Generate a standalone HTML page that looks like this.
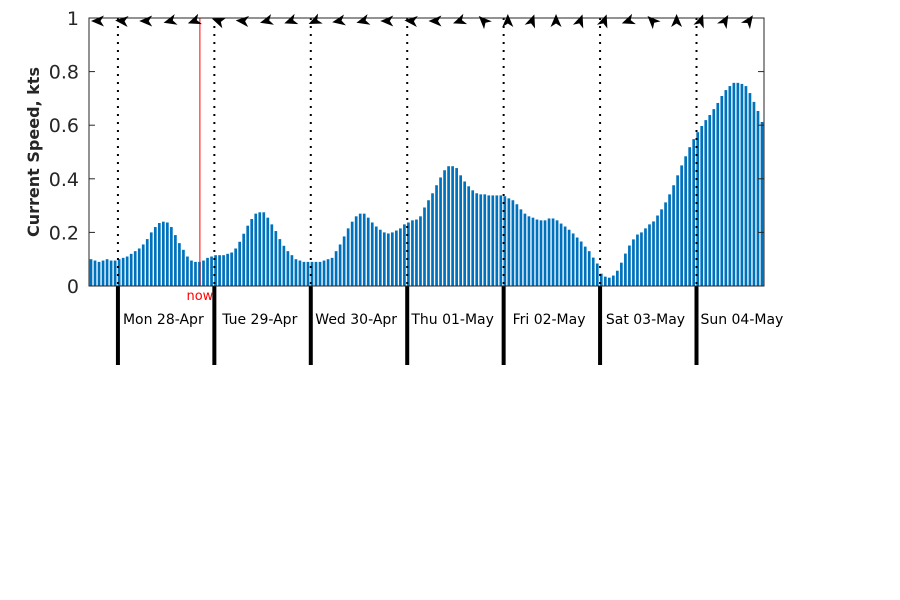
<!DOCTYPE html>
<html><head><meta charset="utf-8"><style>
body{margin:0;background:#fff;width:900px;height:600px;overflow:hidden}
svg{display:block;font-family:"DejaVu Sans","Liberation Sans",sans-serif}
</style></head><body>
<svg id="chart" width="900" height="600" xmlns="http://www.w3.org/2000/svg"></svg>
<script>
const speeds = [
.10,.095,.09,.095,.10,.095,.095,.10,.105,.11,
.12,.13,.14,.155,.175,.20,.22,.235,.24,.237,
.22,.19,.16,.135,.11,.095,.09,.09,.095,.105,
.11,.115,.115,.115,.12,.125,.14,.165,.195,.225,
.25,.27,.275,.275,.255,.23,.205,.175,.15,.13,
.115,.10,.095,.09,.09,.09,
.09,.09,.095,.10,.105,.13,.155,.185,.215,.24,
.26,.27,.27,.255,.237,.222,.21,.2,.196,.2,
.207,.215,.23,.237,.245,.248,.26,.293,.32,.346,
.376,.405,.432,.447,.447,.44,.413,.39,.372,.357,
.346,.342,.342,.338,.338,.338,.338,.335,.327,.32,
.305,.286,.27,.26,
.255,.248,.245,.245,.252,.252,.245,.233,.222,.21,
.196,.181,.166,.147,.13,.106,.084,.046,.035,.031,
.039,.057,.087,.121,.151,.174,.192,.2,.215,.23,
.241,.263,.286,.312,.342,.376,.413,.45,.484,.518,
.548,.574,.597,.619,.638,.66,.683,.709,.731,.746,
.758,.758,.754,.746,.72,.687,.653,.612];
const dayLabels = ["Mon 28-Apr","Tue 29-Apr","Wed 30-Apr","Thu 01-May","Fri 02-May","Sat 03-May","Sun 04-May"];
const yTicks = [0,0.2,0.4,0.6,0.8,1];
const yTickLabels = ["0","0.2","0.4","0.6","0.8","1"];
const arrowDirs = [180,175,180,195,200,160,175,195,200,205,190,195,180,175,
                   180,200,135,90,70,90,70,70,200,135,90,70,60,55];
const firstMidnightHour = 7.2;
const nowHour = 27.6;

const svg = document.getElementById('chart');
const NS = 'http://www.w3.org/2000/svg';
const L = 89, R = 764, T = 18, B = 286;
const totalHours = 168;
const xs = h => L + h * (R - L) / totalHours;
const ys = v => B - v * (B - T);
function mk(tag, attrs, parent) {
  const e = document.createElementNS(NS, tag);
  for (const k in attrs) e.setAttribute(k, attrs[k]);
  (parent || svg).appendChild(e);
  return e;
}
const barG = mk('g', {});


speeds.forEach((v, i) => {
  const cx = xs(i + 0.5);
  const r = mk('rect', {x: cx - 1.35, y: ys(v), width: 2.7, height: B - ys(v), fill: '#0072BD'}, barG);
  
  
});
dayLabels.forEach((lab, k) => {
  const x = xs(firstMidnightHour + 24 * k);
  const dl = mk('line', {x1: x, y1: T, x2: x, y2: B, stroke: '#000', 'stroke-width': 2, 'stroke-dasharray': '2 6'});
  
  
  const tk = mk('line', {x1: x, y1: B, x2: x, y2: 365, stroke: '#000', 'stroke-width': 4});
  
  
  const t = mk('text', {x: xs(firstMidnightHour + 24 * k + 11.3), y: 324, 'font-size': 14, 'text-anchor': 'middle', fill: '#000'});
  t.textContent = lab;
  
  
});
const nx = xs(nowHour);
const nl = mk('line', {x1: nx, y1: T, x2: nx, y2: B, stroke: '#ff0000', 'stroke-width': 1});


const nt = mk('text', {x: nx, y: 300, 'font-size': 13, 'text-anchor': 'middle', fill: '#ff0000'});
nt.textContent = 'now';


const fr = mk('rect', {x: L, y: T, width: R - L, height: B - T, fill: 'none', stroke: '#262626', 'stroke-width': 1});


yTicks.forEach((v, i) => {
  const y = ys(v);
  mk('line', {x1: L, y1: y, x2: L + 6, y2: y, stroke: '#262626'});
  mk('line', {x1: R, y1: y, x2: R - 6, y2: y, stroke: '#262626'});
  const t = mk('text', {x: 79, y: y + 7, 'font-size': 19, 'text-anchor': 'end', fill: '#262626'});
  t.textContent = yTickLabels[i];
  
  
});
const yt = mk('text', {x: 0, y: 0, 'font-size': 16, 'font-weight': 'bold', 'text-anchor': 'middle', fill: '#262626', transform: 'translate(39,152) rotate(-90)'});
yt.textContent = 'Current Speed, kts';


arrowDirs.forEach((d, i) => {
  const x = xs(2.24 + 6 * i);
  const a = mk('polygon', {points: '7,0 -6,-5.5 -2.5,0 -6,5.5', fill: '#000', transform: `translate(${x},21) rotate(${-d})`});
  
  
});
</script>
</body></html>
